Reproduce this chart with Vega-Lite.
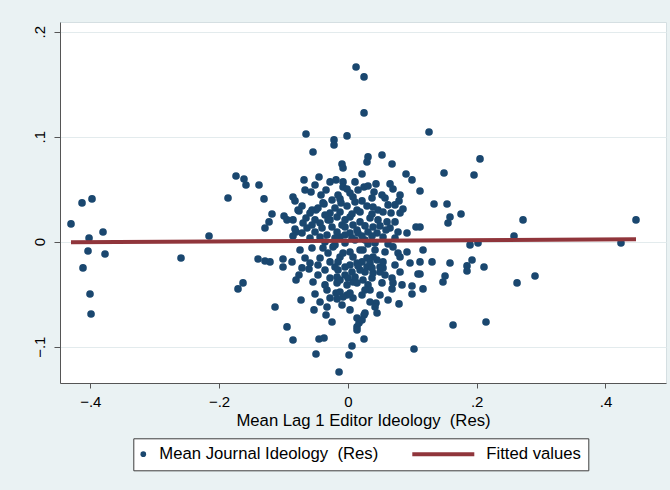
{
  "$schema": "https://vega.github.io/schema/vega-lite/v6.json",
  "width": 606,
  "height": 361,
  "autosize": {"type": "none"},
  "padding": {"left": 60, "top": 22, "right": 4, "bottom": 107},
  "background": "#eaf2f3",
  "config": {
    "view": {"fill": "white", "stroke": "#d5dfe2", "strokeWidth": 1},
    "font": "Liberation Sans",
    "axis": {
      "labelFont": "Liberation Sans",
      "titleFont": "Liberation Sans",
      "labelColor": "#000000",
      "titleColor": "#000000",
      "domainColor": "#555555",
      "tickColor": "#555555",
      "labelFontSize": 15,
      "titleFontSize": 16.7,
      "titleFontWeight": "normal",
      "labelFlush": false,
      "labelOverlap": false
    }
  },
  "data": {
    "values": [
      {"s": "p", "x": -0.4299, "y": 0.0169}, {"s": "p", "x": -0.4128, "y": 0.0369}, {"s": "p", "x": -0.3973, "y": 0.0407},
      {"s": "p", "x": -0.3802, "y": 0.0092}, {"s": "p", "x": -0.4019, "y": 0.0035}, {"s": "p", "x": -0.4035, "y": -0.0089},
      {"s": "p", "x": -0.3771, "y": -0.0117}, {"s": "p", "x": -0.4113, "y": -0.025}, {"s": "p", "x": -0.4004, "y": -0.0498},
      {"s": "p", "x": -0.3988, "y": -0.0689}, {"s": "p", "x": -0.2591, "y": -0.0155}, {"s": "p", "x": -0.2156, "y": 0.0054},
      {"s": "p", "x": -0.1861, "y": 0.0416}, {"s": "p", "x": -0.1737, "y": 0.0626}, {"s": "p", "x": -0.1706, "y": -0.045},
      {"s": "p", "x": -0.1628, "y": -0.0393}, {"s": "p", "x": -0.1613, "y": 0.0597}, {"s": "p", "x": -0.1582, "y": 0.054},
      {"s": "p", "x": -0.138, "y": 0.054}, {"s": "p", "x": -0.1302, "y": 0.0407}, {"s": "p", "x": -0.1395, "y": -0.0165},
      {"s": "p", "x": -0.1287, "y": -0.0184}, {"s": "p", "x": -0.1209, "y": -0.0193}, {"s": "p", "x": -0.1007, "y": -0.0165},
      {"s": "p", "x": -0.1007, "y": -0.0241}, {"s": "p", "x": -0.1178, "y": 0.0264}, {"s": "p", "x": -0.1287, "y": 0.013},
      {"s": "p", "x": -0.1224, "y": 0.0188}, {"s": "p", "x": -0.0991, "y": 0.0245}, {"s": "p", "x": -0.0945, "y": 0.0207},
      {"s": "p", "x": -0.0852, "y": 0.0207}, {"s": "p", "x": -0.0805, "y": 0.0092}, {"s": "p", "x": -0.0852, "y": 0.0054},
      {"s": "p", "x": -0.0712, "y": 0.0083}, {"s": "p", "x": -0.0696, "y": 0.0178}, {"s": "p", "x": -0.0774, "y": 0.0302},
      {"s": "p", "x": -0.0712, "y": 0.034}, {"s": "p", "x": -0.0852, "y": 0.0426}, {"s": "p", "x": -0.0821, "y": 0.0388},
      {"s": "p", "x": -0.0681, "y": 0.0588}, {"s": "p", "x": -0.065, "y": 0.1026}, {"s": "p", "x": -0.0541, "y": 0.0854},
      {"s": "p", "x": -0.0572, "y": 0.0473}, {"s": "p", "x": -0.0417, "y": 0.0445}, {"s": "p", "x": -0.0448, "y": 0.0616},
      {"s": "p", "x": -0.0277, "y": 0.0569}, {"s": "p", "x": -0.0184, "y": 0.0588}, {"s": "p", "x": -0.0075, "y": 0.0569},
      {"s": "p", "x": -0.0075, "y": 0.0521}, {"s": "p", "x": -0.0013, "y": 0.0502}, {"s": "p", "x": -0.0215, "y": 0.0969},
      {"s": "p", "x": -0.0215, "y": 0.0921}, {"s": "p", "x": -0.0013, "y": 0.1007}, {"s": "p", "x": 0.0127, "y": 0.1664},
      {"s": "p", "x": 0.0251, "y": 0.1569}, {"s": "p", "x": 0.0251, "y": 0.1226}, {"s": "p", "x": -0.0091, "y": 0.074},
      {"s": "p", "x": -0.0075, "y": 0.0702}, {"s": "p", "x": 0.0313, "y": 0.0807}, {"s": "p", "x": 0.0297, "y": 0.0759},
      {"s": "p", "x": 0.053, "y": 0.0826}, {"s": "p", "x": 0.0686, "y": 0.074}, {"s": "p", "x": 0.022, "y": 0.0645},
      {"s": "p", "x": 0.0903, "y": 0.0645}, {"s": "p", "x": 0.0996, "y": 0.0588}, {"s": "p", "x": 0.126, "y": 0.1045},
      {"s": "p", "x": 0.1493, "y": 0.0654}, {"s": "p", "x": 0.0111, "y": 0.0569}, {"s": "p", "x": 0.0251, "y": 0.0521},
      {"s": "p", "x": 0.0313, "y": 0.053}, {"s": "p", "x": 0.0437, "y": 0.055}, {"s": "p", "x": 0.0406, "y": 0.0473},
      {"s": "p", "x": 0.0655, "y": 0.055}, {"s": "p", "x": 0.0701, "y": 0.0502}, {"s": "p", "x": 0.081, "y": 0.0445},
      {"s": "p", "x": 0.0794, "y": 0.0388}, {"s": "p", "x": 0.112, "y": 0.0483}, {"s": "p", "x": 0.1338, "y": 0.0359},
      {"s": "p", "x": 0.154, "y": 0.0359}, {"s": "p", "x": 0.1586, "y": 0.0235}, {"s": "p", "x": 0.1555, "y": 0.0178},
      {"s": "p", "x": -0.0588, "y": 0.0273}, {"s": "p", "x": -0.0495, "y": 0.0302}, {"s": "p", "x": -0.037, "y": 0.0359},
      {"s": "p", "x": -0.0246, "y": 0.0397}, {"s": "p", "x": -0.0122, "y": 0.0407}, {"s": "p", "x": -0.0106, "y": 0.0369},
      {"s": "p", "x": -0.0013, "y": 0.034}, {"s": "p", "x": 0.008, "y": 0.0426}, {"s": "p", "x": 0.0111, "y": 0.0378},
      {"s": "p", "x": 0.022, "y": 0.0388}, {"s": "p", "x": 0.0297, "y": 0.034}, {"s": "p", "x": 0.0391, "y": 0.033},
      {"s": "p", "x": 0.0468, "y": 0.0302}, {"s": "p", "x": 0.0546, "y": 0.0283}, {"s": "p", "x": 0.067, "y": 0.0273},
      {"s": "p", "x": 0.081, "y": 0.0273}, {"s": "p", "x": 0.0856, "y": 0.0311}, {"s": "p", "x": 0.0033, "y": 0.0464},
      {"s": "p", "x": -0.0557, "y": 0.0302}, {"s": "p", "x": -0.0464, "y": 0.0321}, {"s": "p", "x": -0.0386, "y": 0.0369},
      {"s": "p", "x": -0.0759, "y": 0.0292}, {"s": "p", "x": -0.0432, "y": 0.0178}, {"s": "p", "x": -0.0401, "y": 0.013},
      {"s": "p", "x": -0.0277, "y": 0.0207}, {"s": "p", "x": -0.0246, "y": 0.014}, {"s": "p", "x": -0.0168, "y": 0.0235},
      {"s": "p", "x": -0.0091, "y": 0.0159}, {"s": "p", "x": -0.0044, "y": 0.0207}, {"s": "p", "x": 0.0033, "y": 0.0235},
      {"s": "p", "x": 0.008, "y": 0.0159}, {"s": "p", "x": 0.0142, "y": 0.0111}, {"s": "p", "x": 0.0033, "y": 0.0083},
      {"s": "p", "x": -0.0324, "y": 0.0064}, {"s": "p", "x": -0.0432, "y": 0.0045}, {"s": "p", "x": -0.0122, "y": 0.0045},
      {"s": "p", "x": -0.0277, "y": 0.0273}, {"s": "p", "x": -0.0634, "y": 0.013}, {"s": "p", "x": -0.0821, "y": 0.0121},
      {"s": "p", "x": 0.0142, "y": 0.0302}, {"s": "p", "x": 0.0189, "y": 0.0188}, {"s": "p", "x": 0.0344, "y": 0.0226},
      {"s": "p", "x": 0.0468, "y": 0.0207}, {"s": "p", "x": 0.0608, "y": 0.0188}, {"s": "p", "x": 0.0655, "y": 0.013},
      {"s": "p", "x": 0.0918, "y": 0.0083}, {"s": "p", "x": 0.1058, "y": 0.014}, {"s": "p", "x": 0.0157, "y": 0.0083},
      {"s": "p", "x": 0.0313, "y": 0.0092}, {"s": "p", "x": 0.0453, "y": 0.0083}, {"s": "p", "x": 0.0546, "y": 0.0045},
      {"s": "p", "x": -0.0044, "y": 0.014}, {"s": "p", "x": 0.0391, "y": 0.014}, {"s": "p", "x": 0.2052, "y": 0.0788},
      {"s": "p", "x": 0.1959, "y": 0.0635}, {"s": "p", "x": 0.1757, "y": 0.0264}, {"s": "p", "x": 0.272, "y": 0.0207},
      {"s": "p", "x": 0.4474, "y": 0.0207}, {"s": "p", "x": 0.258, "y": 0.0054}, {"s": "p", "x": 0.4241, "y": -0.0012},
      {"s": "p", "x": 0.1897, "y": -0.0031}, {"s": "p", "x": 0.2021, "y": -0.0012}, {"s": "p", "x": 0.1167, "y": -0.0079},
      {"s": "p", "x": 0.112, "y": -0.0193}, {"s": "p", "x": 0.1307, "y": -0.0193}, {"s": "p", "x": 0.1586, "y": -0.0203},
      {"s": "p", "x": 0.1928, "y": -0.0174}, {"s": "p", "x": 0.185, "y": -0.0231}, {"s": "p", "x": 0.185, "y": -0.0279},
      {"s": "p", "x": 0.2114, "y": -0.0241}, {"s": "p", "x": 0.1509, "y": -0.0327}, {"s": "p", "x": 0.1477, "y": -0.0384},
      {"s": "p", "x": 0.112, "y": -0.0308}, {"s": "p", "x": 0.1167, "y": -0.045}, {"s": "p", "x": 0.2627, "y": -0.0393},
      {"s": "p", "x": 0.2906, "y": -0.0327}, {"s": "p", "x": 0.1633, "y": -0.0793}, {"s": "p", "x": 0.2145, "y": -0.0765},
      {"s": "p", "x": 0.112, "y": 0.014}, {"s": "p", "x": -0.0603, "y": -0.026}, {"s": "p", "x": -0.0759, "y": -0.0317},
      {"s": "p", "x": -0.0805, "y": -0.0365}, {"s": "p", "x": -0.0541, "y": -0.0384}, {"s": "p", "x": -0.051, "y": -0.0498},
      {"s": "p", "x": -0.0324, "y": -0.046}, {"s": "p", "x": -0.0727, "y": -0.0555}, {"s": "p", "x": -0.1131, "y": -0.0622},
      {"s": "p", "x": -0.0526, "y": -0.065}, {"s": "p", "x": -0.0324, "y": -0.0622}, {"s": "p", "x": -0.0339, "y": -0.0698},
      {"s": "p", "x": -0.0246, "y": -0.0765}, {"s": "p", "x": -0.0945, "y": -0.0812}, {"s": "p", "x": -0.0852, "y": -0.0936},
      {"s": "p", "x": -0.0448, "y": -0.0927}, {"s": "p", "x": -0.037, "y": -0.0917}, {"s": "p", "x": -0.0495, "y": -0.107},
      {"s": "p", "x": -0.0137, "y": -0.1241}, {"s": "p", "x": 0.0064, "y": -0.0993}, {"s": "p", "x": 0.0018, "y": -0.1079},
      {"s": "p", "x": 0.0251, "y": -0.0927}, {"s": "p", "x": 0.0142, "y": -0.0812}, {"s": "p", "x": 0.0173, "y": -0.0774},
      {"s": "p", "x": 0.0251, "y": -0.0698}, {"s": "p", "x": 0.0142, "y": -0.0727}, {"s": "p", "x": 0.0453, "y": -0.0679},
      {"s": "p", "x": 0.0437, "y": -0.0584}, {"s": "p", "x": 0.0344, "y": -0.0574}, {"s": "p", "x": 0.022, "y": -0.0508},
      {"s": "p", "x": 0.008, "y": -0.0536}, {"s": "p", "x": -0.0013, "y": -0.0508}, {"s": "p", "x": -0.0168, "y": -0.0546},
      {"s": "p", "x": -0.0184, "y": -0.0489}, {"s": "p", "x": -0.0277, "y": -0.0346}, {"s": "p", "x": -0.0168, "y": -0.0336},
      {"s": "p", "x": 0.008, "y": -0.0384}, {"s": "p", "x": 0.0235, "y": -0.0365}, {"s": "p", "x": 0.0375, "y": -0.0346},
      {"s": "p", "x": 0.0499, "y": -0.0289}, {"s": "p", "x": 0.0546, "y": -0.025}, {"s": "p", "x": 0.081, "y": -0.0289},
      {"s": "p", "x": 0.0686, "y": -0.0346}, {"s": "p", "x": 0.0701, "y": -0.0393}, {"s": "p", "x": 0.0686, "y": -0.045},
      {"s": "p", "x": 0.0996, "y": -0.0422}, {"s": "p", "x": 0.0996, "y": -0.0498}, {"s": "p", "x": 0.1089, "y": -0.0308},
      {"s": "p", "x": 0.0794, "y": -0.0593}, {"s": "p", "x": 0.1027, "y": -0.1022}, {"s": "p", "x": 0.0965, "y": -0.0203},
      {"s": "p", "x": 0.0918, "y": -0.0098}, {"s": "p", "x": 0.0779, "y": -0.0108}, {"s": "p", "x": 0.0701, "y": -0.005},
      {"s": "p", "x": -0.0557, "y": -0.006}, {"s": "p", "x": -0.0432, "y": -0.0155}, {"s": "p", "x": -0.0277, "y": -0.0193},
      {"s": "p", "x": -0.0122, "y": -0.0146}, {"s": "p", "x": -0.0044, "y": -0.0241}, {"s": "p", "x": 0.0064, "y": -0.0289},
      {"s": "p", "x": 0.0142, "y": -0.0203}, {"s": "p", "x": 0.0297, "y": -0.0241}, {"s": "p", "x": 0.0391, "y": -0.0298},
      {"s": "p", "x": 0.0297, "y": -0.0155}, {"s": "p", "x": 0.0453, "y": -0.0174}, {"s": "p", "x": 0.0033, "y": -0.0098},
      {"s": "p", "x": 0.0235, "y": -0.0079}, {"s": "p", "x": -0.0231, "y": -0.005}, {"s": "p", "x": -0.0386, "y": -0.006},
      {"s": "p", "x": -0.0464, "y": -0.0222}, {"s": "p", "x": -0.02, "y": -0.0241}, {"s": "p", "x": -0.0168, "y": -0.0393},
      {"s": "p", "x": -0.0013, "y": -0.0412}, {"s": "p", "x": -0.0122, "y": -0.0479}, {"s": "p", "x": 0.0033, "y": -0.0489},
      {"s": "p", "x": 0.0142, "y": -0.0393}, {"s": "p", "x": 0.0111, "y": -0.0336}, {"s": "p", "x": 0.008, "y": -0.0146},
      {"s": "p", "x": 0.0142, "y": -0.0841}, {"s": "p", "x": 0.0266, "y": -0.0679}, {"s": "p", "x": 0.022, "y": -0.0746},
      {"s": "p", "x": 0.0422, "y": -0.0622}, {"s": "p", "x": 0.0499, "y": -0.0241}, {"s": "p", "x": 0.0344, "y": -0.0203},
      {"s": "p", "x": 0.0546, "y": -0.0193}, {"s": "p", "x": 0.081, "y": -0.0146}, {"s": "p", "x": -0.0075, "y": -0.0108},
      {"s": "p", "x": 0.0033, "y": -0.0222}, {"s": "p", "x": 0.0266, "y": -0.0289}, {"s": "p", "x": -0.0122, "y": -0.0365},
      {"s": "p", "x": -0.0075, "y": -0.0527}, {"s": "p", "x": 0.0391, "y": -0.0146}, {"s": "p", "x": 0.0189, "y": -0.0079},
      {"s": "p", "x": -0.0588, "y": 0.0035}, {"s": "p", "x": -0.051, "y": 0.0092}, {"s": "p", "x": -0.0355, "y": -0.0003},
      {"s": "p", "x": -0.02, "y": -0.0031}, {"s": "p", "x": -0.0044, "y": -0.0012}, {"s": "p", "x": 0.0111, "y": 0.0016},
      {"s": "p", "x": 0.0266, "y": 0.0016}, {"s": "p", "x": 0.0422, "y": -0.0012}, {"s": "p", "x": 0.0624, "y": -0.0022},
      {"s": "p", "x": 0.0732, "y": 0.0035}, {"s": "p", "x": 0.0189, "y": 0.0283}, {"s": "p", "x": 0.0375, "y": 0.0416},
      {"s": "p", "x": 0.0577, "y": 0.0416}, {"s": "p", "x": 0.0732, "y": 0.035}, {"s": "p", "x": -0.051, "y": 0.0207},
      {"s": "p", "x": -0.0355, "y": 0.0254}, {"s": "p", "x": -0.02, "y": 0.0321}, {"s": "p", "x": 0.0266, "y": 0.015},
      {"s": "p", "x": 0.0499, "y": 0.015}, {"s": "p", "x": 0.0732, "y": 0.0188}, {"s": "p", "x": -0.0168, "y": 0.0092},
      {"s": "p", "x": 0.0064, "y": 0.0035}, {"s": "p", "x": 0.0313, "y": -0.0022}, {"s": "p", "x": -0.0308, "y": -0.0108},
      {"s": "p", "x": 0.0422, "y": -0.0079}, {"s": "p", "x": 0.0577, "y": -0.0098}, {"s": "p", "x": -0.0153, "y": -0.0193},
      {"s": "p", "x": 0.022, "y": -0.0193}, {"s": "p", "x": -0.0355, "y": -0.027}, {"s": "p", "x": -0.0044, "y": -0.0317},
      {"s": "p", "x": 0.0313, "y": -0.0412}, {"s": "p", "x": 0.053, "y": -0.0393}, {"s": "p", "x": -0.0665, "y": -0.0155},
      {"s": "p", "x": -0.0588, "y": -0.0203},
      {"s": "p", "x": -0.0665, "y": 0.0492}, {"s": "p", "x": -0.051, "y": 0.054}, {"s": "p", "x": -0.0339, "y": 0.0492},
      {"s": "p", "x": -0.0153, "y": 0.0445}, {"s": "p", "x": 0.0158, "y": 0.0492}, {"s": "p", "x": 0.053, "y": 0.0445},
      {"s": "p", "x": 0.0624, "y": 0.035}, {"s": "p", "x": -0.065, "y": 0.0226}, {"s": "p", "x": -0.0557, "y": 0.0159},
      {"s": "p", "x": -0.0122, "y": 0.0283}, {"s": "p", "x": 0.0064, "y": 0.0264}, {"s": "p", "x": 0.0375, "y": 0.0264},
      {"s": "p", "x": 0.0592, "y": 0.0111}, {"s": "p", "x": 0.0779, "y": 0.0092}, {"s": "p", "x": -0.0743, "y": -0.0079},
      {"s": "p", "x": -0.0867, "y": -0.0193}, {"s": "p", "x": -0.0712, "y": -0.025}, {"s": "p", "x": -0.0464, "y": -0.0317},
      {"s": "p", "x": -0.0355, "y": -0.0412}, {"s": "p", "x": -0.0277, "y": -0.0536}, {"s": "p", "x": -0.0432, "y": -0.0574},
      {"s": "p", "x": -0.0091, "y": -0.0603}, {"s": "p", "x": 0.0033, "y": -0.065}, {"s": "p", "x": 0.0344, "y": -0.046},
      {"s": "p", "x": 0.0499, "y": -0.0508}, {"s": "p", "x": 0.0624, "y": -0.0555}, {"s": "p", "x": 0.0841, "y": -0.0412},
      {"s": "p", "x": 0.0732, "y": -0.0222}, {"s": "p", "x": 0.0577, "y": -0.0317}, {"s": "p", "x": 0.0189, "y": -0.027},
      {"s": "p", "x": -0.0044, "y": 0.0064}, {"s": "p", "x": -0.02, "y": 0.0035}, {"s": "p", "x": 0.022, "y": 0.0054},
      {"s": "p", "x": 0.0375, "y": 0.0054}, {"s": "p", "x": -0.0153, "y": -0.027}, {"s": "p", "x": 0.0158, "y": -0.0231},
      {"s": "p", "x": 0.0375, "y": -0.025}, {"s": "p", "x": 0.0002, "y": -0.0346}, {"s": "p", "x": 0.0266, "y": -0.046},
      {"s": "p", "x": -0.0308, "y": 0.0207},
      {"s": "f", "x": -0.4299, "y": -0.0005},
      {"s": "f", "x": 0.4474, "y": 0.0023}
    ]
  },
  "encoding": {
    "x": {
      "field": "x",
      "type": "quantitative",
      "scale": {"domain": [-0.447, 0.494], "nice": false, "zero": false},
      "axis": {
        "title": "Mean Lag 1 Editor Ideology\u00a0 (Res)",
        "values": [-0.4, -0.2, 0, 0.2, 0.4],
        "grid": false,
        "labelExpr": "datum.value == 0 ? '0' : replace(format(datum.value, '.1f'), '0.', '.')",
        "tickSize": 5,
        "labelPadding": 6,
        "titlePadding": 3
      }
    },
    "y": {
      "field": "y",
      "type": "quantitative",
      "scale": {"domain": [-0.1346, 0.2092], "nice": false, "zero": false},
      "axis": {
        "title": null,
        "values": [-0.1, 0, 0.1, 0.2],
        "grid": true,
        "gridColor": "#e3ebed",
        "gridWidth": 1.2,
        "labelExpr": "datum.value == 0 ? '0' : replace(format(datum.value, '.1f'), '0.', '.')",
        "labelAngle": -90,
        "labelAlign": "center",
        "labelBaseline": "alphabetic",
        "labelPadding": 10,
        "tickSize": 6
      }
    },
    "color": {
      "field": "s",
      "type": "nominal",
      "scale": {"domain": ["p", "f"], "range": ["#1a476f", "#90353b"]},
      "legend": {
        "orient": "none",
        "legendX": 73.3,
        "legendY": 416.3,
        "direction": "horizontal",
        "columns": 2,
        "title": null,
        "fillColor": "white",
        "strokeColor": "#3c3c3c",
        "padding": 7,
        "labelFont": "Liberation Sans",
        "labelFontSize": 16.7,
        "labelColor": "#000000",
        "labelLimit": 400,
        "labelExpr": "datum.value === 'f' ? 'Fitted values' : 'Mean Journal Ideology\u00a0 (Res)'",
        "columnPadding": 26,
        "symbolSize": 32,
        "symbolType": "circle",
        "encode": {
          "symbols": {
            "update": {
              "shape": {"signal": "datum.value === 'f' ? 'stroke' : 'circle'"},
              "size": {"signal": "datum.value === 'f' ? 3844 : 32"},
              "x": {"signal": "datum.value === 'f' ? 31 : 3"},
              "fill": {"signal": "datum.value === 'f' ? 'transparent' : '#1a476f'"},
              "stroke": {"signal": "datum.value === 'f' ? '#90353b' : 'transparent'"},
              "strokeWidth": {"signal": "datum.value === 'f' ? 4 : 0"},
              "opacity": {"value": 1}
            }
          },
          "labels": {
            "update": {
              "x": {"signal": "datum.value === 'f' ? 74 : 19"}
            }
          }
        }
      }
    }
  },
  "layer": [
    {
      "transform": [{"filter": "datum.s === 'p'"}],
      "mark": {"type": "circle", "size": 58, "opacity": 1}
    },
    {
      "transform": [{"filter": "datum.s === 'f'"}],
      "mark": {"type": "line", "strokeWidth": 4}
    }
  ]
}
